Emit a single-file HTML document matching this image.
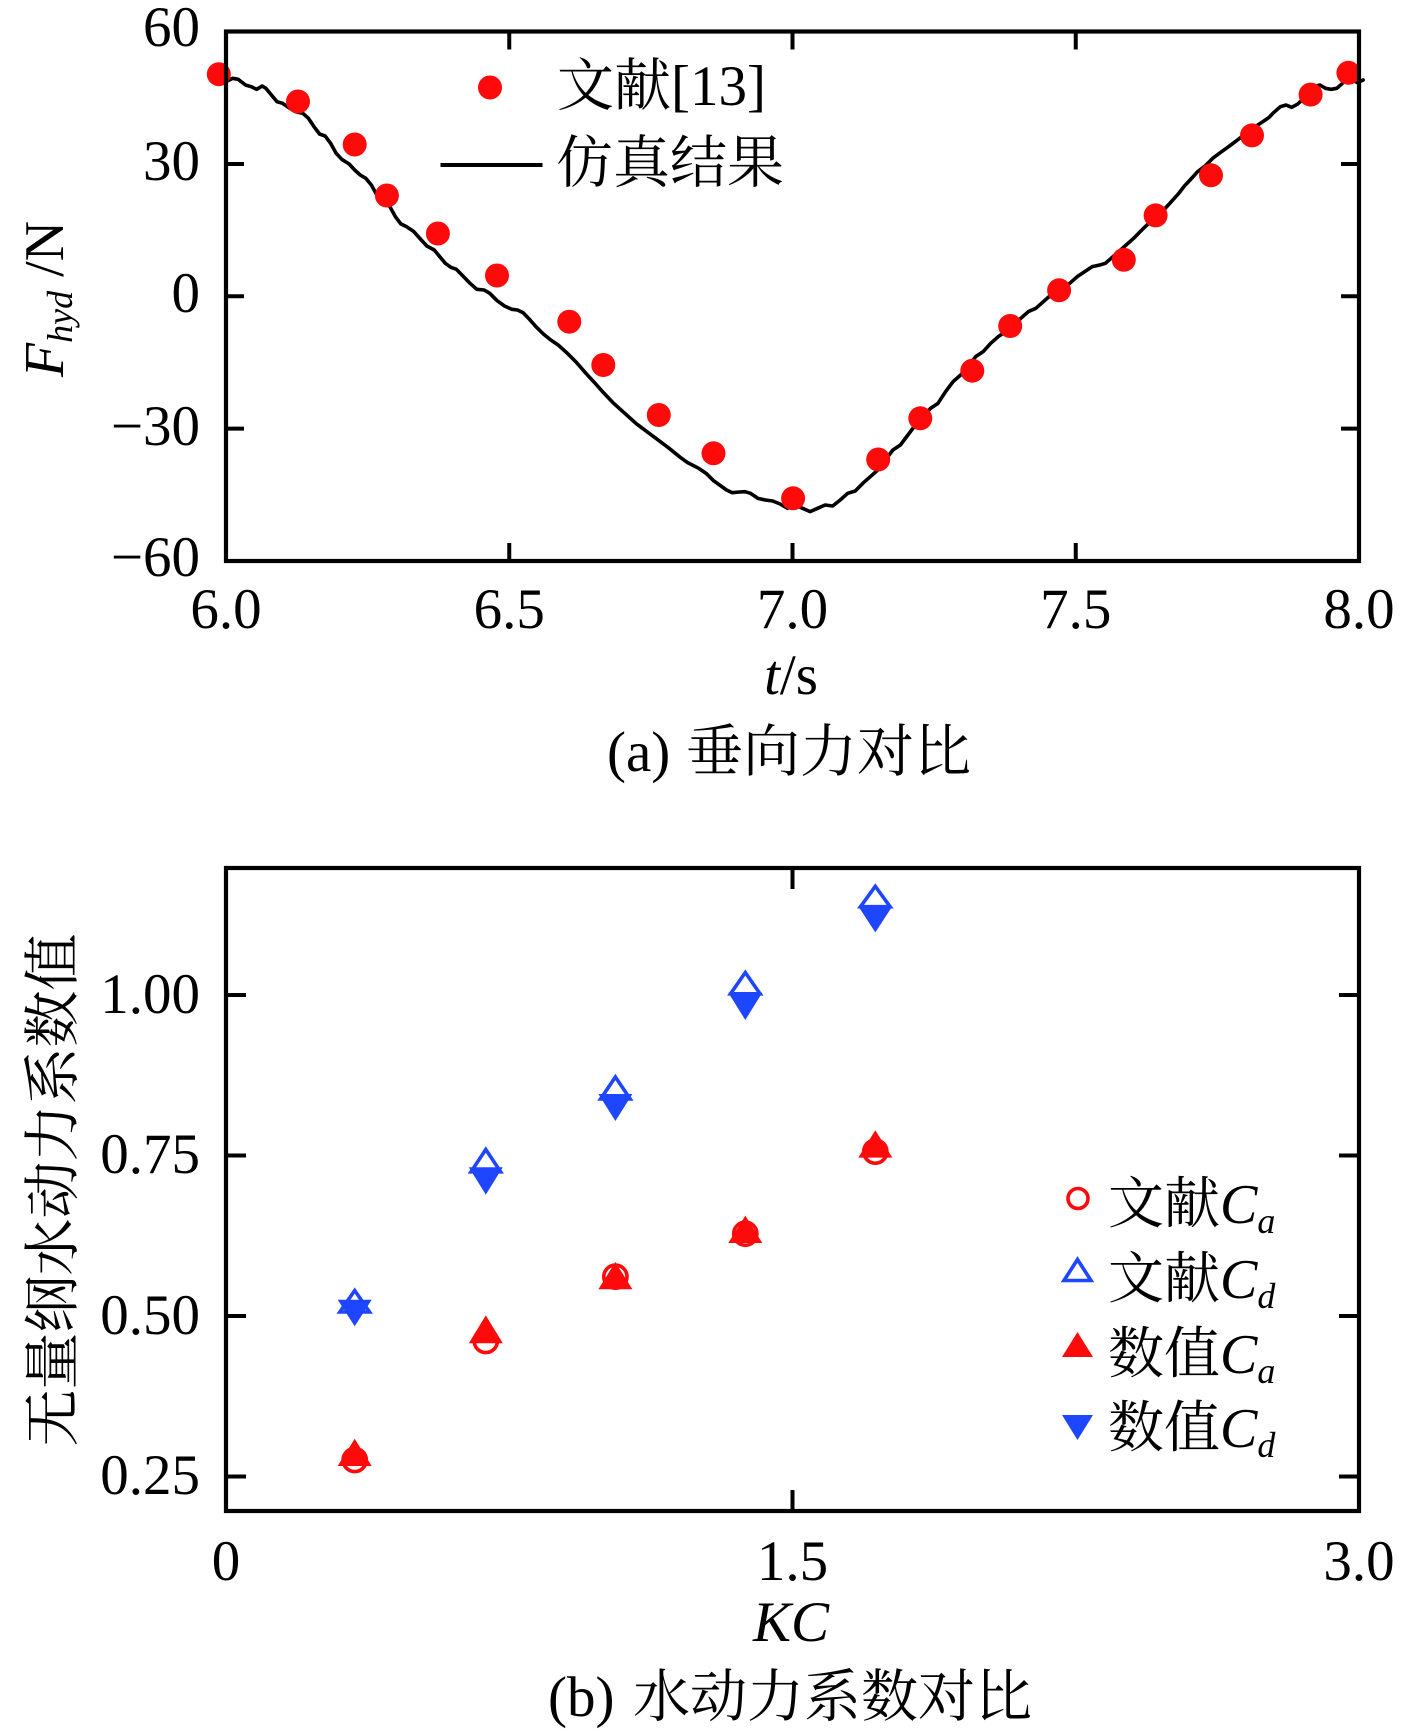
<!DOCTYPE html>
<html>
<head>
<meta charset="utf-8">
<style>
  html, body { margin: 0; padding: 0; background: #ffffff; }
  svg { display: block; }
  text { font-family: "Liberation Serif", serif; fill: #000; }
  .cjk { font-family: "Noto Serif CJK SC", "Liberation Serif", serif; }
</style>
</head>
<body>
<svg width="1417" height="1736" viewBox="0 0 1417 1736" xmlns="http://www.w3.org/2000/svg">
  <rect x="0" y="0" width="1417" height="1736" fill="#ffffff"/>

  <!-- ================= TOP PLOT ================= -->
  <g fill="none" stroke="#000" stroke-linejoin="round" stroke-linecap="round">
    <polyline vector-effect="non-scaling-stroke" stroke-width="3.6" transform="matrix(0.36996 0 0 0.33333 221.5 60)"
      points="12,65 30,55 45,58 65,75 80,80 95,88 110,78 120,85 135,105 150,125 165,130 185,145 200,155 220,160 235,175 250,200 265,222 280,228 295,250 310,280 325,298 345,312 360,330 375,345 390,355 405,375 420,405 435,420 455,440 470,470 485,492 500,500 520,515 540,540 555,558 575,570 590,590 605,610 620,622 635,628 650,645 670,668 690,688 710,690 725,700 745,722 765,738 785,748 800,750 815,758 830,775 850,800 870,822 890,840 910,855 935,880 960,908 985,940 1010,970 1030,995 1060,1030 1090,1060 1120,1090 1150,1115 1180,1140 1210,1165 1240,1192 1260,1208 1290,1225 1310,1240 1330,1262 1350,1278 1365,1290 1380,1298 1400,1296 1415,1295 1430,1300 1450,1315 1470,1320 1490,1323 1510,1332 1530,1345"/>
    <polyline vector-effect="non-scaling-stroke" stroke-width="3.6" transform="matrix(0.37622 0 0 0.33333 780 60)"
      points="20,1340 40,1335 60,1345 80,1355 100,1345 120,1335 140,1338 160,1320 180,1300 200,1293 220,1270 240,1250 260,1230 280,1200 300,1170 320,1155 340,1125 360,1095 380,1070 400,1045 420,1030 440,995 460,965 480,945 500,920 520,890 540,875 560,850 580,830 600,815 620,800 640,775 660,755 680,745 700,725 720,705 745,690 770,670 790,650 810,635 830,620 850,615 865,610 880,595 900,575 920,555 940,535 960,512 980,490 1000,470 1020,450 1040,425 1060,400 1075,378 1090,360 1110,335 1130,318 1150,295 1170,278 1190,262 1210,245 1230,228 1250,210 1270,195 1290,180 1300,172 1310,160 1330,140 1345,135 1360,142 1375,133 1390,118 1405,95 1420,80 1435,75 1450,85 1465,88 1480,85 1495,70 1510,55 1520,60 1535,68 1550,60"/>
  </g>

  <g fill="#ff0a0a">
    <circle cx="218.8" cy="74.2" r="12"/>
    <circle cx="298" cy="101.5" r="12"/>
    <circle cx="354.7" cy="144.5" r="12"/>
    <circle cx="386.9" cy="195.5" r="12"/>
    <circle cx="437.9" cy="233.5" r="12"/>
    <circle cx="497" cy="275.5" r="12"/>
    <circle cx="569.3" cy="321.7" r="12"/>
    <circle cx="603.3" cy="365" r="12"/>
    <circle cx="658.8" cy="415" r="12"/>
    <circle cx="713.5" cy="453.3" r="12"/>
    <circle cx="793.1" cy="498.3" r="12"/>
    <circle cx="878.2" cy="459.5" r="12"/>
    <circle cx="920.3" cy="418.3" r="12"/>
    <circle cx="972.3" cy="370.7" r="12"/>
    <circle cx="1010.2" cy="326" r="12"/>
    <circle cx="1059.1" cy="290.3" r="12"/>
    <circle cx="1123.8" cy="259.8" r="12"/>
    <circle cx="1155.6" cy="215.4" r="12"/>
    <circle cx="1211" cy="175.3" r="12"/>
    <circle cx="1252" cy="135.4" r="12"/>
    <circle cx="1310.6" cy="94.6" r="12"/>
    <circle cx="1348.4" cy="72.8" r="12"/>
  </g>

  <rect x="226" y="31.5" width="1133" height="529.5" fill="none" stroke="#000" stroke-width="4.2"/>
  <g stroke="#000" stroke-width="4">
    <line x1="509.25" y1="31.5" x2="509.25" y2="49.5"/>
    <line x1="792.5" y1="31.5" x2="792.5" y2="49.5"/>
    <line x1="1075.75" y1="31.5" x2="1075.75" y2="49.5"/>
    <line x1="509.25" y1="561" x2="509.25" y2="543"/>
    <line x1="792.5" y1="561" x2="792.5" y2="543"/>
    <line x1="1075.75" y1="561" x2="1075.75" y2="543"/>
    <line x1="226" y1="164" x2="244" y2="164"/>
    <line x1="226" y1="296.25" x2="244" y2="296.25"/>
    <line x1="226" y1="428.6" x2="244" y2="428.6"/>
    <line x1="1359" y1="164" x2="1341" y2="164"/>
    <line x1="1359" y1="296.25" x2="1341" y2="296.25"/>
    <line x1="1359" y1="428.6" x2="1341" y2="428.6"/>
  </g>

  <g font-size="57" text-anchor="end">
    <text x="200" y="46">60</text>
    <text x="200" y="180">30</text>
    <text x="200" y="312">0</text>
    <text x="200" y="445">−30</text>
    <text x="200" y="576">−60</text>
  </g>
  <g font-size="57" text-anchor="middle">
    <text x="226" y="628">6.0</text>
    <text x="509.25" y="628">6.5</text>
    <text x="792.5" y="628">7.0</text>
    <text x="1075.75" y="628">7.5</text>
    <text x="1359" y="628">8.0</text>
  </g>

  <text x="791" y="694" font-size="57" text-anchor="middle"><tspan font-style="italic">t</tspan>/s</text>
  <text transform="translate(63,299) rotate(-90)" font-size="56" text-anchor="middle"><tspan font-style="italic">F</tspan><tspan font-style="italic" font-size="36" dy="9">hyd</tspan><tspan dy="-9"> /N</tspan></text>

  <text x="607" y="771" font-size="57">(a)</text>
  <text class="cjk" x="686" y="771" font-size="57">垂向力对比</text>

  <circle cx="490" cy="87.5" r="12" fill="#ff0a0a"/>
  <text x="557" y="105" font-size="57"><tspan class="cjk">文献</tspan>[13]</text>
  <line x1="440.5" y1="165" x2="542.5" y2="165" stroke="#000" stroke-width="4"/>
  <text class="cjk" x="556" y="182" font-size="57">仿真结果</text>

  <!-- ================= BOTTOM PLOT ================= -->
  <g fill="#1e46ff">
    <polygon points="337.7,1299.8 371.7,1299.8 354.7,1326.3"/>
    <polygon points="468.8,1167.2 502.8,1167.2 485.8,1194.6"/>
    <polygon points="598.4,1094 632.4,1094 615.4,1121"/>
    <polygon points="728.3,992.6 762.3,992.6 745.3,1020"/>
    <polygon points="858.3,906.3 892.3,906.3 875.3,932.4"/>
  </g>
  <g fill="none" stroke="#1e46ff" stroke-width="3.6" stroke-linejoin="miter">
    <polygon points="354.7,1290.5 369.5,1312 339.9,1312"/>
    <polygon points="485.8,1149.5 500.6,1171.8 471,1171.8"/>
    <polygon points="615.4,1077 630.2,1099 600.6,1099"/>
    <polygon points="745.3,972.5 760.1,993.8 730.5,993.8"/>
    <polygon points="875.3,886.3 890.1,906.7 860.5,906.7"/>
  </g>
  <g fill="none" stroke="#ff0a0a" stroke-width="3.6">
    <circle cx="354.7" cy="1460" r="11.6"/>
    <circle cx="485.8" cy="1341" r="11.6"/>
    <circle cx="615.4" cy="1276.7" r="11.6"/>
    <circle cx="745.3" cy="1233.7" r="11.6"/>
    <circle cx="875.3" cy="1151.6" r="11.6"/>
  </g>
  <g fill="#ff0a0a">
    <polygon points="354.7,1438.7 371.7,1466 337.7,1466"/>
    <polygon points="485.8,1315.4 502.8,1343.2 468.8,1343.2"/>
    <polygon points="615.4,1262 632.4,1289.3 598.4,1289.3"/>
    <polygon points="745.3,1215.6 762.3,1243 728.3,1243"/>
    <polygon points="875.3,1130.2 892.3,1157.6 858.3,1157.6"/>
  </g>

  <rect x="226" y="868" width="1133" height="643" fill="none" stroke="#000" stroke-width="4.2"/>
  <g stroke="#000" stroke-width="4">
    <line x1="792.5" y1="868" x2="792.5" y2="889"/>
    <line x1="792.5" y1="1511" x2="792.5" y2="1490"/>
    <line x1="226" y1="995" x2="246" y2="995"/>
    <line x1="226" y1="1155.5" x2="246" y2="1155.5"/>
    <line x1="226" y1="1316" x2="246" y2="1316"/>
    <line x1="226" y1="1476.5" x2="246" y2="1476.5"/>
    <line x1="1359" y1="995" x2="1339" y2="995"/>
    <line x1="1359" y1="1155.5" x2="1339" y2="1155.5"/>
    <line x1="1359" y1="1316" x2="1339" y2="1316"/>
    <line x1="1359" y1="1476.5" x2="1339" y2="1476.5"/>
  </g>

  <g font-size="57" text-anchor="end">
    <text x="200" y="1013">1.00</text>
    <text x="200" y="1173">0.75</text>
    <text x="200" y="1334">0.50</text>
    <text x="200" y="1494">0.25</text>
  </g>
  <g font-size="57" text-anchor="middle">
    <text x="226" y="1580">0</text>
    <text x="792.5" y="1580">1.5</text>
    <text x="1359" y="1580">3.0</text>
  </g>

  <text x="791" y="1641" font-size="57" font-style="italic" text-anchor="middle">KC</text>
  <text class="cjk" transform="translate(72,1190) rotate(-90)" font-size="57" text-anchor="middle">无量纲水动力系数值</text>

  <text x="548" y="1716" font-size="57">(b)</text>
  <text class="cjk" x="633" y="1716" font-size="57">水动力系数对比</text>

  <circle cx="1078" cy="1198.5" r="10" fill="none" stroke="#ff0a0a" stroke-width="3.6"/>
  <polygon points="1077.5,1259.5 1091,1280.5 1064,1280.5" fill="none" stroke="#1e46ff" stroke-width="3.6"/>
  <polygon points="1077.5,1332 1093,1357 1062,1357" fill="#ff0a0a"/>
  <polygon points="1062,1415 1093,1415 1077.5,1440" fill="#1e46ff"/>

  <g font-size="56">
    <text x="1108" y="1223"><tspan class="cjk">文献</tspan><tspan font-style="italic">C</tspan><tspan font-style="italic" font-size="36" dy="10">a</tspan></text>
    <text x="1108" y="1298"><tspan class="cjk">文献</tspan><tspan font-style="italic">C</tspan><tspan font-style="italic" font-size="36" dy="10">d</tspan></text>
    <text x="1108" y="1373"><tspan class="cjk">数值</tspan><tspan font-style="italic">C</tspan><tspan font-style="italic" font-size="36" dy="10">a</tspan></text>
    <text x="1108" y="1447"><tspan class="cjk">数值</tspan><tspan font-style="italic">C</tspan><tspan font-style="italic" font-size="36" dy="10">d</tspan></text>
  </g>
</svg>
</body>
</html>
